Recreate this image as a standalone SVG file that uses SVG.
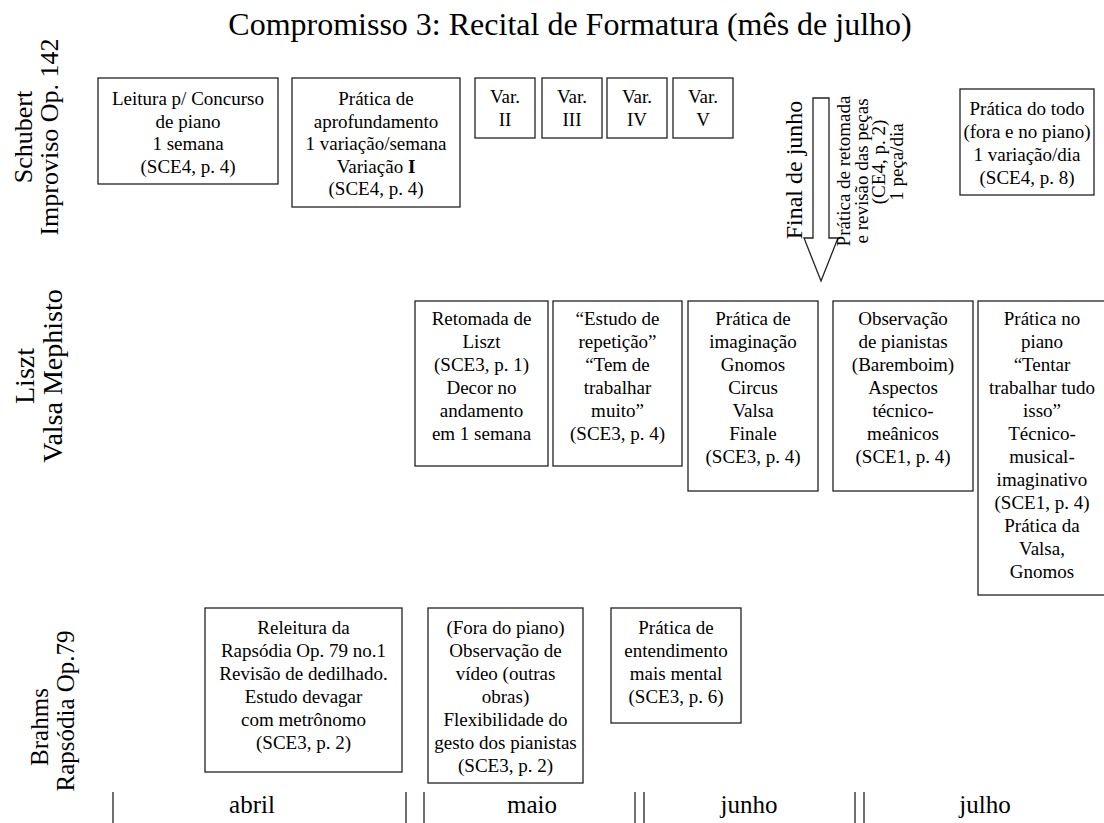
<svg xmlns="http://www.w3.org/2000/svg" width="1104" height="823" viewBox="0 0 1104 823">
<style>
.bx{fill:#fff;stroke:#222;stroke-width:1.3}
.t{font-family:"Liberation Serif","Times New Roman",serif;font-size:19px;fill:#000;text-anchor:middle}
.lab{font-family:"Liberation Serif","Times New Roman",serif;fill:#000;text-anchor:middle}
.tick{stroke:#222;stroke-width:1.3}
</style>
<rect width="1104" height="823" fill="#fff"/>
<text class="lab" x="570" y="35" font-size="32">Compromisso 3: Recital de Formatura (mês de julho)</text>

<g id="row-labels">
<g transform="translate(0,137) rotate(-90)"><text class="lab" font-size="26"><tspan x="0" y="32">Schubert</tspan><tspan x="0" y="58">Improviso Op. 142</tspan></text></g>
<g transform="translate(0,376) rotate(-90)"><text class="lab" font-size="28"><tspan x="0" y="34">Liszt</tspan><tspan x="0" y="62">Valsa Mephisto</tspan></text></g>
<g transform="translate(0,727) rotate(-90)"><text class="lab" font-size="25" x="0" y="48">Brahms</text></g>
<g transform="translate(0,711) rotate(-90)"><text class="lab" font-size="25" x="0" y="74">Rapsódia Op.79</text></g>
</g>

<g id="s1"><rect class="bx" x="98" y="78" width="180" height="106"/><text class="t"><tspan x="188" y="105">Leitura p/ Concurso</tspan><tspan x="188" y="127.5">de piano</tspan><tspan x="188" y="150">1 semana</tspan><tspan x="188" y="172.5">(SCE4, p. 4)</tspan></text></g>
<g id="s2"><rect class="bx" x="292" y="78" width="168" height="129"/><text class="t"><tspan x="376" y="105">Prática de</tspan><tspan x="376" y="127.5">aprofundamento</tspan><tspan x="376" y="150">1 variação/semana</tspan><tspan x="376" y="172.5">Variação <tspan font-weight="bold">I</tspan></tspan><tspan x="376" y="195">(SCE4, p. 4)</tspan></text></g>
<g id="s3"><rect class="bx" x="475" y="78" width="60" height="60"/><text class="t"><tspan x="505" y="103">Var.</tspan><tspan x="505" y="126">II</tspan></text></g>
<g id="s4"><rect class="bx" x="542" y="78" width="60" height="60"/><text class="t"><tspan x="572" y="103">Var.</tspan><tspan x="572" y="126">III</tspan></text></g>
<g id="s5"><rect class="bx" x="607" y="78" width="60" height="60"/><text class="t"><tspan x="637" y="103">Var.</tspan><tspan x="637" y="126">IV</tspan></text></g>
<g id="s6"><rect class="bx" x="673" y="78" width="60" height="60"/><text class="t"><tspan x="703" y="103">Var.</tspan><tspan x="703" y="126">V</tspan></text></g>
<g id="s7"><rect class="bx" x="960" y="89" width="134" height="106"/><text class="t"><tspan x="1027" y="115">Prática do todo</tspan><tspan x="1027" y="138">(fora e no piano)</tspan><tspan x="1027" y="161">1 variação/dia</tspan><tspan x="1027" y="184">(SCE4, p. 8)</tspan></text></g>

<g id="final-junho">
<polygon class="bx" points="813,98 829,98 829,238 838,238 821,281 804,238 813,238"/>
<g transform="translate(0,170) rotate(-90)"><text class="lab" font-size="24" x="0" y="802">Final de junho</text></g>
<g transform="translate(0,171) rotate(-90)"><text class="lab" font-size="19"><tspan x="0" y="850">Prática de retomada</tspan><tspan x="0" y="867.5">e revisão das peças</tspan></text></g>
<g transform="translate(0,162) rotate(-90)"><text class="lab" font-size="19"><tspan x="0" y="885">(CE4, p. 2)</tspan><tspan x="0" y="903">1 peça/dia</tspan></text></g>
</g>

<g id="l1"><rect class="bx" x="415" y="301" width="133" height="165"/><text class="t"><tspan x="481.5" y="325">Retomada de</tspan><tspan x="481.5" y="348">Liszt</tspan><tspan x="481.5" y="371">(SCE3, p. 1)</tspan><tspan x="481.5" y="394">Decor no</tspan><tspan x="481.5" y="417">andamento</tspan><tspan x="481.5" y="440">em 1 semana</tspan></text></g>
<g id="l2"><rect class="bx" x="553" y="301" width="129" height="165"/><text class="t"><tspan x="617.5" y="325">“Estudo de</tspan><tspan x="617.5" y="348">repetição”</tspan><tspan x="617.5" y="371">“Tem de</tspan><tspan x="617.5" y="394">trabalhar</tspan><tspan x="617.5" y="417">muito”</tspan><tspan x="617.5" y="440">(SCE3, p. 4)</tspan></text></g>
<g id="l3"><rect class="bx" x="688" y="301" width="130" height="190"/><text class="t"><tspan x="753" y="325">Prática de</tspan><tspan x="753" y="348">imaginação</tspan><tspan x="753" y="371">Gnomos</tspan><tspan x="753" y="394">Circus</tspan><tspan x="753" y="417">Valsa</tspan><tspan x="753" y="440">Finale</tspan><tspan x="753" y="463">(SCE3, p. 4)</tspan></text></g>
<g id="l4"><rect class="bx" x="833" y="301" width="140" height="190"/><text class="t"><tspan x="903" y="325">Observação</tspan><tspan x="903" y="348">de pianistas</tspan><tspan x="903" y="371">(Baremboim)</tspan><tspan x="903" y="394">Aspectos</tspan><tspan x="903" y="417">técnico-</tspan><tspan x="903" y="440">meânicos</tspan><tspan x="903" y="463">(SCE1, p. 4)</tspan></text></g>
<g id="l5"><rect class="bx" x="978" y="301" width="130" height="294"/><text class="t"><tspan x="1042" y="325">Prática no</tspan><tspan x="1042" y="348">piano</tspan><tspan x="1042" y="371">“Tentar</tspan><tspan x="1042" y="394">trabalhar tudo</tspan><tspan x="1042" y="417">isso”</tspan><tspan x="1042" y="440">Técnico-</tspan><tspan x="1042" y="463">musical-</tspan><tspan x="1042" y="486">imaginativo</tspan><tspan x="1042" y="509">(SCE1, p. 4)</tspan><tspan x="1042" y="532">Prática da</tspan><tspan x="1042" y="555">Valsa,</tspan><tspan x="1042" y="578">Gnomos</tspan></text></g>

<g id="b1"><rect class="bx" x="205" y="608" width="197" height="164"/><text class="t"><tspan x="303.5" y="634">Releitura da</tspan><tspan x="303.5" y="657">Rapsódia Op. 79 no.1</tspan><tspan x="303.5" y="680">Revisão de dedilhado.</tspan><tspan x="303.5" y="703">Estudo devagar</tspan><tspan x="303.5" y="726">com metrônomo</tspan><tspan x="303.5" y="749">(SCE3, p. 2)</tspan></text></g>
<g id="b2"><rect class="bx" x="428" y="608" width="155" height="175"/><text class="t"><tspan x="505.5" y="634">(Fora do piano)</tspan><tspan x="505.5" y="657">Observação de</tspan><tspan x="505.5" y="680">vídeo (outras</tspan><tspan x="505.5" y="703">obras)</tspan><tspan x="505.5" y="726">Flexibilidade do</tspan><tspan x="505.5" y="749">gesto dos pianistas</tspan><tspan x="505.5" y="772">(SCE3, p. 2)</tspan></text></g>
<g id="b3"><rect class="bx" x="611" y="608" width="130" height="115"/><text class="t"><tspan x="676" y="634">Prática de</tspan><tspan x="676" y="657">entendimento</tspan><tspan x="676" y="680">mais mental</tspan><tspan x="676" y="703">(SCE3, p. 6)</tspan></text></g>

<g id="timeline">
<line class="tick" x1="113" y1="792" x2="113" y2="823"/>
<line class="tick" x1="406" y1="792" x2="406" y2="823"/>
<line class="tick" x1="424" y1="792" x2="424" y2="823"/>
<line class="tick" x1="635" y1="792" x2="635" y2="823"/>
<line class="tick" x1="644" y1="792" x2="644" y2="823"/>
<line class="tick" x1="855" y1="792" x2="855" y2="823"/>
<line class="tick" x1="864" y1="792" x2="864" y2="823"/>
<text class="lab" font-size="25" x="252" y="813">abril</text>
<text class="lab" font-size="25" x="532" y="813">maio</text>
<text class="lab" font-size="25" x="749" y="813">junho</text>
<text class="lab" font-size="25" x="985" y="813">julho</text>
</g>
</svg>
